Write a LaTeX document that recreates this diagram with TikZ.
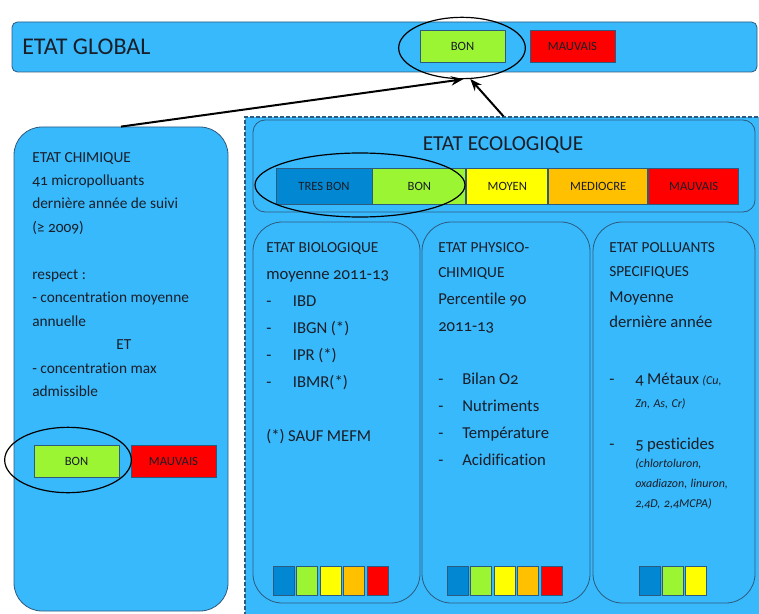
\documentclass[tikz,border=0pt]{standalone}
\usepackage{fontspec}
\setmainfont{Carlito}[Numbers=OldStyle, RawFeature=-liga]
\usetikzlibrary{arrows.meta, positioning, shapes.geometric}
\definecolor{ciel}{RGB}{56,185,252}
\definecolor{trait}{RGB}{45,90,125}
\definecolor{tresbon}{RGB}{2,136,210}
\definecolor{bon}{RGB}{155,245,50}
\definecolor{moyen}{RGB}{255,255,0}
\definecolor{mediocre}{RGB}{255,192,0}
\definecolor{mauvais}{RGB}{255,0,0}
\definecolor{encre}{RGB}{25,30,40}
\newcommand{\puce}[1]{\makebox[#1][l]{-}}

\begin{document}
\begin{tikzpicture}[
  x=0.75pt, y=-0.75pt,
  font=\fontsize{12}{18}\selectfont, text=encre,
  panel/.style={rectangle, draw=trait, fill=ciel, line width=0.6pt},
  niveau/.style={rectangle, draw=trait, line width=0.7pt, minimum height=24pt,
                 inner sep=0pt, font=\fontsize{9.5}{11}\selectfont},
  pave/.style={rectangle, draw=trait, line width=0.7pt, minimum width=15.75pt,
               minimum height=21.75pt, inner sep=0pt},
  bulle/.style={ellipse, draw=black, line width=0.9pt, inner sep=0pt},
  lien/.style={-{Stealth[length=9pt,width=7pt]}, line width=1.5pt},
  txt/.style={anchor=base west, inner sep=0pt, align=left,
              execute at begin node={\frenchspacing\spaceskip=2.6pt plus 1pt minus 0.5pt\relax}}
]
  \useasboundingbox (0,0) rectangle (759,613);

  % etat global
  \node[panel, rounded corners=4pt, minimum width=558.75pt, minimum height=37.5pt] (glob) at (384.5,47) {};
  \node[anchor=west, inner sep=0pt, font=\fontsize{18}{20}\selectfont] (globlab) at (22,47) {ETAT GLOBAL};
  \node[niveau, fill=bon, minimum width=63.75pt] (gbon) at (462.5,46) {BON};
  \node[niveau, fill=mauvais, minimum width=63.75pt] (gmauv) at (572.5,46) {MAUVAIS};
  \node[bulle, minimum width=95pt, minimum height=46pt] (gcercle) at (462,48) {};

  % etat chimique
  \node[panel, rounded corners=21pt, minimum width=160.5pt, minimum height=363pt] (chim) at (121,369) {};
  \node[txt, text width=140pt, font=\fontsize{11.5}{17.6}\selectfont] (chimtxt) at (32,162)
    {ETAT CHIMIQUE\\41 micropolluants\\dernière année de suivi\\(≥ 2009)\\[17.6pt]respect :\\
     - concentration moyenne\\annuelle\\\hspace*{63pt}ET\\- concentration max\\admissible};
  \node[niveau, fill=bon, minimum width=63.75pt] (cbon) at (76.5,461) {BON};
  \node[niveau, fill=mauvais, minimum width=63.75pt] (cmauv) at (173.5,461) {MAUVAIS};
  \node[bulle, minimum width=95pt, minimum height=49pt] (ccercle) at (68,460) {};

  % etat ecologique
  \node[panel, draw=trait, dash pattern=on 3pt off 1.5pt, line width=1pt,
        minimum width=388pt, minimum height=373.5pt] (eco) at (503.5,366) {};
  \node[panel, rounded corners=9pt, minimum width=376.5pt, minimum height=69pt] (ecotitre) at (504,166) {};
  \node[inner sep=0pt, font=\fontsize{16}{18}\selectfont] (ecolab) at (503,145) {ETAT ECOLOGIQUE};
  \node[niveau, fill=tresbon, minimum width=72pt, minimum height=27pt] (etb) at (324,186) {TRES BON};
  \node[niveau, fill=bon, minimum width=69.75pt, minimum height=27pt, right=0pt of etb] (ebon) {BON};
  \node[niveau, fill=moyen, minimum width=60.75pt, minimum height=27pt, right=0pt of ebon] (emoy) {MOYEN};
  \node[niveau, fill=mediocre, minimum width=74.25pt, minimum height=27pt, right=0pt of emoy] (emed) {MEDIOCRE};
  \node[niveau, fill=mauvais, minimum width=67.5pt, minimum height=27pt, right=0pt of emed] (emauv) {MAUVAIS};
  \node[bulle, minimum width=157.5pt, minimum height=48pt] (ecercle) at (360,185) {};

  % sous-etats
  \node[panel, rounded corners=22pt, minimum width=125.25pt, minimum height=285.75pt] (bio) at (336.5,412.5) {};
  \node[panel, rounded corners=22pt, minimum width=126pt, minimum height=285.75pt] (phys) at (506,412.5) {};
  \node[panel, rounded corners=22pt, minimum width=121.5pt, minimum height=285.75pt] (poll) at (674,412.5) {};

  \node[txt, text width=118pt, font=\fontsize{12.5}{20.25}\selectfont] (biotxt) at (266,252)
    {{\fontsize{11.5}{13}\selectfont ETAT BIOLOGIQUE}\\moyenne 2011-13\\\puce{20pt}IBD\\
     \puce{20pt}IBGN (*)\\\puce{20pt}IPR (*)\\\puce{20pt}IBMR(*)\\[20.25pt](*) SAUF MEFM};
  \node[txt, text width=115pt, font=\fontsize{12.5}{20.25}\selectfont] (phystxt) at (438,252)
    {{\fontsize{11.5}{13}\selectfont ETAT PHYSICO-}\\[-1.5pt]{\fontsize{11.5}{13}\selectfont CHIMIQUE}\\
     Percentile 90\\2011-13\\[19.5pt]\puce{18pt}Bilan O2\\\puce{18pt}Nutriments\\
     \puce{18pt}Température\\\puce{18pt}Acidification};
  \node[txt, text width=112pt, font=\fontsize{12.5}{20.25}\selectfont] (polltxt) at (609,252)
    {{\fontsize{11.5}{13}\selectfont ETAT POLLUANTS}\\[-2.25pt]{\fontsize{11.5}{13}\selectfont SPECIFIQUES}\\[-0.75pt]
     Moyenne\\[-1.5pt]dernière année\\[22.5pt]
     \puce{19.5pt}4 Métaux {\fontsize{9}{11}\selectfont\itshape (Cu,}\\[-3pt]
     \hspace*{19.5pt}{\fontsize{9}{11}\selectfont\itshape Zn, As, Cr)}\\[11.25pt]
     \puce{19.5pt}5 pesticides\\[-6.75pt]
     \hspace*{19.5pt}{\fontsize{9}{11}\selectfont\itshape (chlortoluron,}\\[-5.25pt]
     \hspace*{19.5pt}{\fontsize{9}{11}\selectfont\itshape oxadiazon, linuron,}\\[-5.25pt]
     \hspace*{19.5pt}{\fontsize{9}{11}\selectfont\itshape 2,4D, 2,4MCPA)}};

  % petites echelles
  \foreach \c [count=\i] in {tresbon,bon,moyen,mediocre,mauvais}
    \node[pave, fill=\c] (bio\i) at ({283.5+23.5*(\i-1)},580.5) {};
  \foreach \c [count=\i] in {tresbon,bon,moyen,mediocre,mauvais}
    \node[pave, fill=\c] (phys\i) at ({457.5+23.5*(\i-1)},580.5) {};
  \foreach \c [count=\i] in {tresbon,bon,moyen}
    \node[pave, fill=\c] (poll\i) at ({649.5+23*(\i-1)},580.5) {};

  % liens
  \draw[lien] (chim.north) -- (gcercle.-88);
  \draw[lien] (eco.north) -- (gcercle.-75);
\end{tikzpicture}
\end{document}
